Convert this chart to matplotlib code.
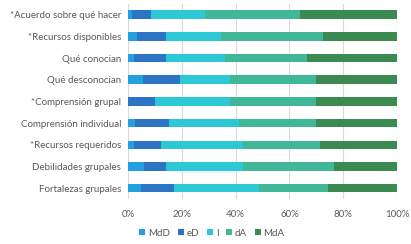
import matplotlib
matplotlib.use('Agg')
import matplotlib.pyplot as plt
from matplotlib.ticker import PercentFormatter

categories = ['*Acuerdo sobre qué hacer', '*Recursos disponibles', 'Qué conocian',
              'Qué desconocian', '*Comprensión grupal', 'Comprensión individual',
              '*Recursos requeridos', 'Debilidades grupales', 'Fortalezas grupales']
series = ['MdD', 'eD', 'I', 'dA', 'MdA']
mdd = [1.6, 3.4, 2.4, 5.7, 0.0, 2.5, 2.4, 5.8, 5.0]
ed = [6.8, 10.8, 11.8, 13.5, 10.1, 12.6, 10.0, 8.4, 12.0]
ind = [20.1, 20.3, 21.8, 18.7, 27.8, 26.2, 30.4, 28.6, 31.7]
da = [35.5, 37.9, 30.5, 31.9, 32.1, 28.7, 28.7, 33.9, 25.5]
mda = [36.0, 27.6, 33.5, 30.2, 30.0, 30.0, 28.5, 23.3, 25.8]
colors = ['#22a0e0', '#2e74c4', '#2cc8d6', '#40b898', '#3a8a52']

plt.rcParams['font.family'] = ['Lato', 'DejaVu Sans']
text_color = '#595959'

fig = plt.figure(figsize=(4.11, 2.44), dpi=100)
ax = fig.add_axes([128 / 411, 1 - 199 / 244, 269 / 411, 195 / 244])

ypos = list(range(len(categories)))
left = [0.0] * len(categories)
for name, vals, c in zip(series, [mdd, ed, ind, da, mda], colors):
    ax.barh(ypos, vals, left=left, height=0.4, color=c, label=name, zorder=3)
    left = [l + v for l, v in zip(left, vals)]

ax.set_ylim(len(categories) - 0.5, -0.5)
ax.set_xlim(0, 100)
ax.set_yticks(ypos)
ax.set_yticklabels(categories)
ax.set_xticks([0, 20, 40, 60, 80, 100])
ax.xaxis.set_major_formatter(PercentFormatter(decimals=0))
ax.tick_params(axis='both', length=0, labelsize=7, colors=text_color, pad=5)
ax.tick_params(axis='x', pad=8)
ax.grid(axis='x', color='#d9d9d9', linewidth=0.8, zorder=0)
for s in ax.spines.values():
    s.set_visible(False)

fig.legend(loc='center', bbox_to_anchor=(212 / 411, 1 - 233 / 244), ncol=5,
           frameon=False, fontsize=7, handlelength=0.6, handleheight=0.6,
           handletextpad=0.3, columnspacing=0.8, labelcolor=text_color)

fig.savefig('out.png', dpi=100)
